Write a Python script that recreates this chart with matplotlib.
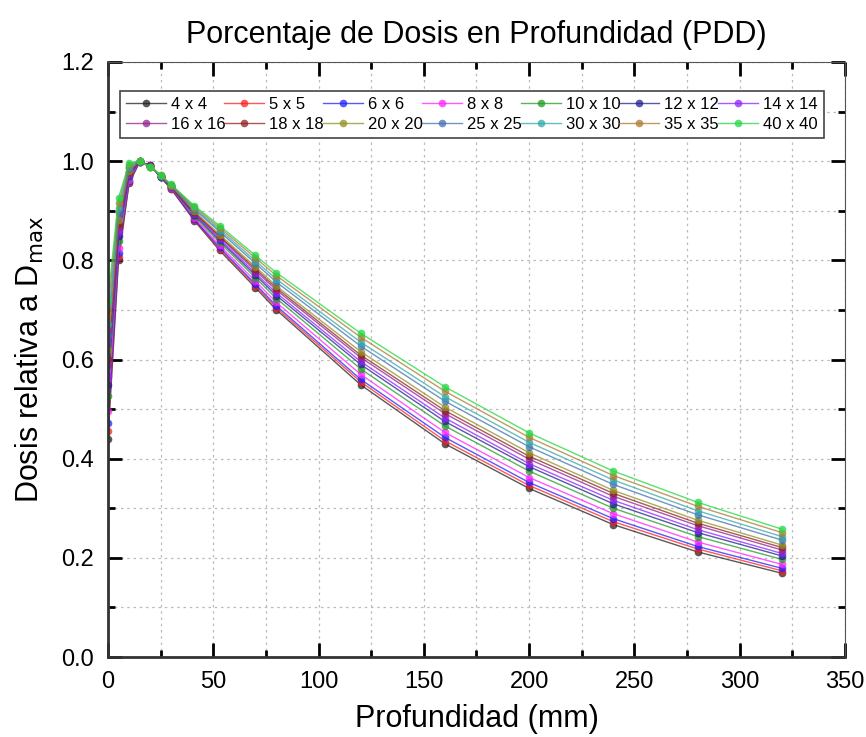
import matplotlib.pyplot as plt
from matplotlib.ticker import MultipleLocator

plt.rcParams['font.family'] = ['Liberation Sans', 'DejaVu Sans']

depth = [0, 5, 10, 15, 20, 25, 30, 41, 53, 70, 80, 120, 160, 200, 240, 280, 320]

labels = ["4 x 4", "5 x 5", "6 x 6", "8 x 8", "10 x 10", "12 x 12", "14 x 14",
          "16 x 16", "18 x 18", "20 x 20", "25 x 25", "30 x 30", "35 x 35", "40 x 40"]

pdd_4 = [0.440, 0.800, 0.955, 0.998, 0.992, 0.968, 0.944, 0.880, 0.820, 0.745, 0.700, 0.549, 0.430, 0.340, 0.267, 0.212, 0.169]
pdd_5 = [0.456, 0.807, 0.957, 0.998, 0.992, 0.968, 0.944, 0.882, 0.823, 0.749, 0.704, 0.555, 0.436, 0.346, 0.273, 0.218, 0.174]
pdd_6 = [0.471, 0.814, 0.960, 0.999, 0.992, 0.968, 0.945, 0.883, 0.826, 0.752, 0.708, 0.560, 0.443, 0.352, 0.279, 0.223, 0.179]
pdd_8 = [0.496, 0.825, 0.963, 0.999, 0.991, 0.969, 0.946, 0.886, 0.830, 0.758, 0.715, 0.570, 0.453, 0.362, 0.289, 0.232, 0.187]
pdd_10 = [0.527, 0.839, 0.968, 0.999, 0.991, 0.969, 0.947, 0.889, 0.836, 0.765, 0.723, 0.581, 0.466, 0.375, 0.300, 0.243, 0.197]
pdd_12 = [0.549, 0.849, 0.971, 1.000, 0.990, 0.969, 0.948, 0.892, 0.840, 0.770, 0.729, 0.590, 0.475, 0.384, 0.309, 0.251, 0.204]
pdd_14 = [0.566, 0.857, 0.973, 1.000, 0.990, 0.970, 0.948, 0.894, 0.843, 0.774, 0.734, 0.596, 0.482, 0.390, 0.316, 0.257, 0.209]
pdd_16 = [0.588, 0.867, 0.977, 1.000, 0.990, 0.970, 0.949, 0.896, 0.847, 0.779, 0.740, 0.604, 0.491, 0.399, 0.324, 0.265, 0.216]
pdd_18 = [0.602, 0.873, 0.979, 1.000, 0.990, 0.970, 0.949, 0.897, 0.849, 0.783, 0.744, 0.609, 0.497, 0.405, 0.330, 0.270, 0.221]
pdd_20 = [0.619, 0.881, 0.981, 1.000, 0.989, 0.970, 0.950, 0.899, 0.852, 0.787, 0.748, 0.616, 0.504, 0.412, 0.336, 0.276, 0.226]
pdd_25 = [0.650, 0.895, 0.986, 1.000, 0.989, 0.971, 0.951, 0.903, 0.858, 0.794, 0.756, 0.627, 0.516, 0.424, 0.348, 0.287, 0.236]
pdd_30 = [0.672, 0.905, 0.989, 1.000, 0.988, 0.971, 0.951, 0.905, 0.862, 0.799, 0.762, 0.635, 0.525, 0.433, 0.357, 0.295, 0.243]
pdd_35 = [0.698, 0.916, 0.993, 1.000, 0.988, 0.972, 0.952, 0.908, 0.866, 0.805, 0.769, 0.645, 0.536, 0.443, 0.366, 0.304, 0.251]
pdd_40 = [0.720, 0.926, 0.996, 1.000, 0.988, 0.972, 0.953, 0.910, 0.870, 0.810, 0.775, 0.653, 0.545, 0.452, 0.375, 0.312, 0.258]

series = [pdd_4, pdd_5, pdd_6, pdd_8, pdd_10, pdd_12, pdd_14,
          pdd_16, pdd_18, pdd_20, pdd_25, pdd_30, pdd_35, pdd_40]

colors = ["#222222", "#ff2020", "#2020ff", "#ff20ff", "#219a21", "#202090", "#9020ff",
          "#902090", "#902020", "#909020", "#4070b0", "#30a8a8", "#b07830", "#20d840"]

fig = plt.figure(figsize=(8.66, 7.37), dpi=100)
ax = fig.add_axes([0.1247, 0.1085, 0.8510, 0.8074])

lines = []
for ys, c, lab in zip(series, colors, labels):
    ln, = ax.plot(depth, ys, '-', color=c, lw=1.0, label=lab,
                  marker='o', ms=5.5, mec='none', mfc=c, alpha=0.75)
    lines.append(ln)

ax.set_xlim(0, 350)
ax.set_ylim(0, 1.2)
ax.xaxis.set_major_locator(MultipleLocator(50))
ax.xaxis.set_minor_locator(MultipleLocator(25))
ax.yaxis.set_major_locator(MultipleLocator(0.2))
ax.yaxis.set_minor_locator(MultipleLocator(0.1))
ax.yaxis.set_major_formatter(plt.FormatStrFormatter('%.1f'))

ax.grid(True, which='both', color='#bbbbbb', ls=(0, (2, 3)), lw=0.9)
ax.set_axisbelow(True)
ax.tick_params(which='both', direction='in', top=True, right=True, labelsize=17)
ax.tick_params(which='major', length=10, width=2)
ax.tick_params(which='minor', length=5, width=2)
ax.tick_params(axis='x', which='both', pad=10)
ax.tick_params(axis='y', which='both', pad=10)
for s in ['left', 'bottom']:
    ax.spines[s].set_linewidth(2)
    ax.spines[s].set_color('#333333')
for s in ['top', 'right']:
    ax.spines[s].set_color('#555555')
    ax.spines[s].set_linewidth(0.8)

ax.set_title("Porcentaje de Dosis en Profundidad (PDD)", fontsize=22, pad=14)
ax.set_xlabel("Profundidad (mm)", fontsize=22, labelpad=8)
ax.set_ylabel("Dosis relativa a D$_{\\mathrm{max}}$", fontsize=22, labelpad=11)

# legend filled row by row, 7 columns
order = []
for k in range(7):
    order += [k, k + 7]
leg = ax.legend([lines[i] for i in order], [labels[i] for i in order],
                loc='upper left', bbox_to_anchor=(0.016, 0.80, 0.955, 0.151),
                mode='expand', ncol=7, fontsize=12, handlelength=2.4,
                handletextpad=0.3, columnspacing=0.3, borderpad=0.35,
                labelspacing=0.32, borderaxespad=0, fancybox=False, framealpha=1)
leg.get_frame().set_edgecolor('#444444')
leg.get_frame().set_linewidth(1.2)

fig.savefig("out.png", dpi=100)
